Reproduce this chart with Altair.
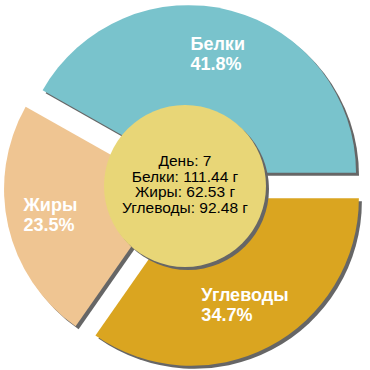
import math
import altair as alt
import pandas as pd

# ---- data ----
names = ["Белки", "Углеводы", "Жиры"]
grams = [111.44, 92.48, 62.53]
colors = ["#79c3cc", "#daa520", "#efc592"]
day = 7
center_order = ["Белки", "Жиры", "Углеводы"]

# ---- layout / style ----
W = H = 370
CX, CY = 185, 186
R = 167.5
EXPLODE = 13.8
START = math.radians(-60.57)
LABEL_R = 122
HOLE_R = 81
SH = 3
SHADOW = "#666666"
FONT = "Liberation Sans"

df = pd.DataFrame({"name": names, "grams": grams, "color": colors, "idx": list(range(len(names)))})

gmap = dict(zip(names, grams))
center_text = "\n".join([f"День: {day}"] + [f"{n}: {gmap[n]:.2f} г" for n in center_order])
cdf = pd.DataFrame({"text": [center_text]})

base = (
    alt.Chart(df)
    .transform_window(cum="sum(grams)", sort=[alt.SortField("idx")], frame=[None, 0])
    .transform_joinaggregate(total="sum(grams)")
    .transform_calculate(
        t0=f"{START} + 2*PI*(datum.cum - datum.grams)/datum.total",
        t1=f"{START} + 2*PI*datum.cum/datum.total",
    )
    .transform_calculate(mid="(datum.t0 + datum.t1)/2")
    .transform_calculate(
        ox=f"{CX} + {EXPLODE}*sin(datum.mid)",
        oy=f"{CY} - {EXPLODE}*cos(datum.mid)",
        pct="format(100*datum.grams/datum.total, '.1f') + '%'",
    )
    .transform_calculate(
        sx=f"datum.ox + {SH}",
        sy=f"datum.oy + {SH}",
        lx=f"datum.ox + {LABEL_R}*sin(datum.mid) - 5.8*max(length(datum.name), length(datum.pct))",
        ly=f"datum.oy - {LABEL_R}*cos(datum.mid) - 10",
        label="datum.name + '\\n' + datum.pct",
    )
)

theta = alt.Theta("t0:Q", scale=None, stack=False)
theta2 = alt.Theta2("t1")

shadow = base.mark_arc(outerRadius=R, innerRadius=0, color=SHADOW).encode(
    theta=theta, theta2=theta2,
    x=alt.X("sx:Q", scale=None), y=alt.Y("sy:Q", scale=None),
)
slices = base.mark_arc(outerRadius=R, innerRadius=0).encode(
    theta=theta, theta2=theta2,
    x=alt.X("ox:Q", scale=None), y=alt.Y("oy:Q", scale=None),
    color=alt.Color("color:N", scale=None),
)
labels = base.mark_text(
    align="left", baseline="middle", fontSize=18, fontWeight="bold", font=FONT,
    color="white", lineBreak="\n", lineHeight=20,
).encode(
    x=alt.X("lx:Q", scale=None), y=alt.Y("ly:Q", scale=None), text="label:N",
)

area = (2 * HOLE_R) ** 2
hole_shadow = alt.Chart(cdf).mark_circle(size=area, color=SHADOW, opacity=1, strokeWidth=0).encode(
    x=alt.value(CX + SH), y=alt.value(CY + SH)
)
hole = alt.Chart(cdf).mark_circle(size=area, color="#e8d677", opacity=1, strokeWidth=0).encode(
    x=alt.value(CX), y=alt.value(CY)
)
ctext = alt.Chart(cdf).mark_text(
    align="center", baseline="middle", fontSize=15.5, font=FONT, color="black",
    lineBreak="\n", lineHeight=15.5,
).encode(x=alt.value(CX), y=alt.value(CY - 25), text="text:N")

chart = (
    alt.layer(shadow, slices, hole_shadow, hole, ctext, labels)
    .properties(width=W, height=H, padding=0, autosize=alt.AutoSizeParams(type="none"))
    .configure_view(stroke=None)
)

chart.save("out.html", embed_options={"renderer": "svg", "actions": False})
